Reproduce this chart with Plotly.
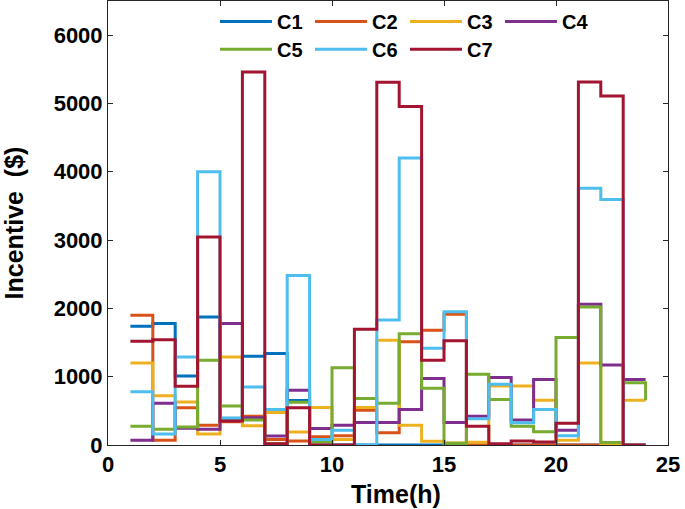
import plotly.graph_objects as go

hours = list(range(1, 25))
series_names = ["C1", "C2", "C3", "C4", "C5", "C6", "C7"]
C1 = [1740, 1780, 1010, 1875, 390, 1300, 1340, 650, 0, 0, 0, 0, 0, 0, 0, 0, 0, 0, 0, 0, 0, 0, 0, 0]
C2 = [1900, 70, 545, 290, 340, 420, 80, 60, 120, 135, 510, 180, 1510, 1680, 1915, 0, 0, 0, 0, 0, 0, 0, 0, 0]
C3 = [1200, 720, 630, 160, 1290, 280, 475, 190, 550, 80, 550, 1535, 290, 55, 30, 40, 865, 865, 655, 70, 1200, 10, 655, 655]
C4 = [70, 610, 245, 230, 1780, 400, 130, 800, 240, 290, 330, 330, 520, 975, 330, 420, 990, 365, 960, 215, 2060, 1170, 960, 960]
C5 = [275, 230, 265, 1240, 570, 365, 20, 625, 45, 1130, 680, 610, 1630, 830, 25, 1035, 665, 275, 195, 1575, 2020, 35, 910, 655]
C6 = [780, 160, 1290, 4000, 390, 850, 520, 2480, 80, 215, 0, 1830, 4200, 1415, 1950, 385, 890, 325, 520, 135, 3760, 3595, 0, 0]
C7 = [1520, 1540, 860, 3045, 350, 5460, 20, 545, 0, 0, 1695, 5310, 4955, 1240, 1525, 275, 20, 60, 45, 320, 5315, 5110, 0, 0]
series_values = [C1, C2, C3, C4, C5, C6, C7]
x_ticks = [0, 5, 10, 15, 20, 25]
y_ticks = [0, 1000, 2000, 3000, 4000, 5000, 6000]
x_title = "Time(h)"
y_title = "Incentive  ($)"

colors = ["#0072BD", "#D95319", "#EDB120", "#7E2F8E", "#77AC30", "#4DBEEE", "#A2142F"]
FONT = "Arial, Liberation Sans, sans-serif"

fig = go.Figure()
for i, (name, vals) in enumerate(zip(series_names, series_values)):
    fig.add_trace(go.Scatter(
        x=hours, y=vals, name=name, mode="lines",
        line=dict(shape="hv", color=colors[i], width=3),
        legend="legend" if i < 4 else "legend2",
    ))

axis_common = dict(
    showgrid=False, zeroline=False, showline=True, linecolor="#262626", linewidth=1,
    mirror="ticks", ticks="inside", ticklen=5, tickcolor="#262626", automargin=False,
    tickfont=dict(family=FONT, size=22, color="black", weight="bold"),
)
fig.update_xaxes(range=[0, 25], tickvals=x_ticks, **axis_common)
fig.update_yaxes(range=[0, 6500], tickvals=y_ticks,
                 title=dict(text=y_title, font=dict(family=FONT, size=25, color="black", weight="bold"), standoff=24),
                 **axis_common)

fig.add_annotation(text=x_title, xref="paper", yref="paper", x=0.5, y=0, xanchor="center", yanchor="middle",
                   xshift=8, yshift=-49, showarrow=False,
                   font=dict(family=FONT, size=25, color="black", weight="bold"))

leg_common = dict(orientation="h", xanchor="left", yanchor="top", bgcolor="rgba(0,0,0,0)",
                  font=dict(family=FONT, size=20, color="black", weight="bold"),
                  entrywidth=28, itemwidth=52, borderwidth=0)
fig.update_layout(
    width=685, height=509,
    margin=dict(l=108, r=17, t=1, b=64),
    plot_bgcolor="white", paper_bgcolor="white",
    font=dict(family=FONT, color="black"),
    legend=dict(x=0.191, y=0.9975, **leg_common),
    legend2=dict(x=0.191, y=0.935, **leg_common),
)

fig.write_html("out.html", config={"displayModeBar": False},
               post_script="document.body.style.margin='0';")
